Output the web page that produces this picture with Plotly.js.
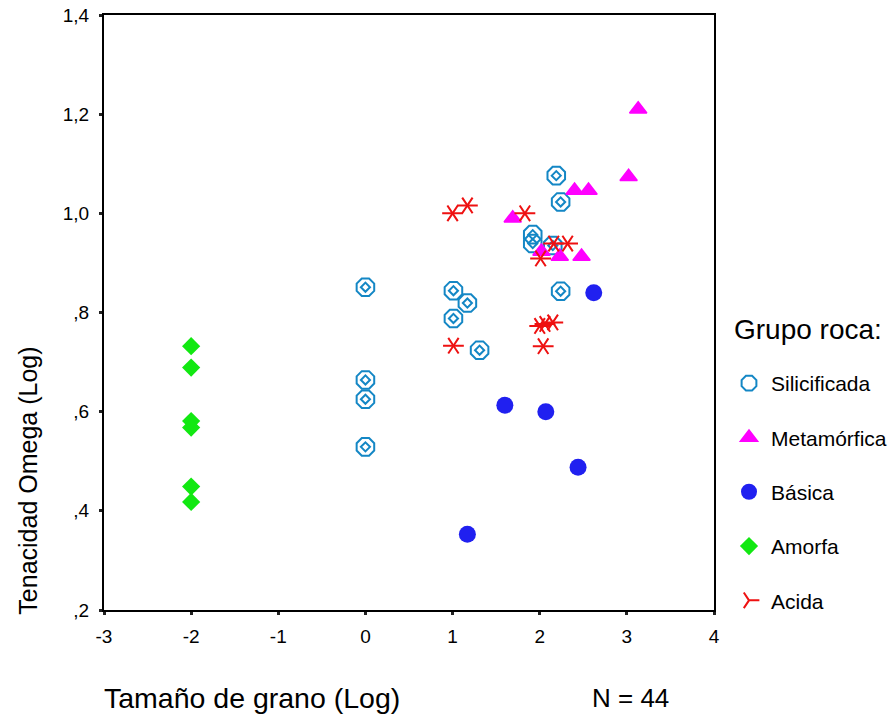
<!DOCTYPE html>
<html>
<head>
<meta charset="utf-8">
<script src="https://cdn.plot.ly/plotly-3.0.1.min.js"></script>
<style>html,body{margin:0;padding:0;background:#fff;}#chart{width:890px;height:717px;}</style>
</head>
<body>
<div id="chart"></div>
<script>
// Data
const silX = [0, 0, 0, 0, 1.01, 1.17, 1.01, 1.31, 2.19, 2.24, 1.92, 1.92, 2.15, 2.24];
const silY = [0.851, 0.664, 0.625, 0.529, 0.844, 0.819, 0.788, 0.724, 1.076, 1.023, 0.957, 0.939, 0.935, 0.843];

const metX = [3.13, 3.02, 2.40, 2.56, 1.69, 2.02, 2.23, 2.48];
const metY = [1.210, 1.074, 1.046, 1.046, 0.990, 0.923, 0.913, 0.913];

const basX = [2.62, 1.60, 2.07, 2.44, 1.17];
const basY = [0.840, 0.613, 0.600, 0.488, 0.353];

const amoX = [-2, -2, -2, -2, -2, -2];
const amoY = [0.732, 0.689, 0.581, 0.568, 0.449, 0.418];

const aciX = [1.00, 1.17, 1.83, 2.01, 2.16, 2.32, 2.00, 2.06, 2.15, 2.04, 1.01];
const aciY = [1.000, 1.016, 1.000, 0.909, 0.939, 0.939, 0.773, 0.777, 0.780, 0.732, 0.733];

const groupNames = ['Silicificada', 'Metamórfica', 'Básica', 'Amorfa', 'Acida'];
const xTickVals = [-3, -2, -1, 0, 1, 2, 3, 4];
const xTickText = ['-3', '-2', '-1', '0', '1', '2', '3', '4'];
const yTickVals = [0.2, 0.4, 0.6, 0.8, 1.0, 1.2, 1.4];
const yTickText = [',2', ',4', ',6', ',8', '1,0', '1,2', '1,4'];

const FONT = 'Liberation Sans, Arial, sans-serif';
const cSil = '#1487c5', cMet = '#ff00ff', cBas = '#2020f0', cAmo = '#12e812', cAci = '#ee1111';

const traces = [
  {x: silX, y: silY, type: 'scatter', mode: 'markers', name: groupNames[0], legendgroup: 'g1',
   marker: {symbol: 'octagon-open', size: 19, color: cSil, line: {color: cSil, width: 2}}},
  {x: silX, y: silY, type: 'scatter', mode: 'markers', name: groupNames[0], legendgroup: 'g1', showlegend: false,
   marker: {symbol: 'diamond-open', size: 7, color: cSil, line: {color: cSil, width: 2}}},
  {x: metX, y: metY, type: 'scatter', mode: 'markers', name: groupNames[1], legendgroup: 'g2',
   marker: {symbol: 'triangle-up', size: 15, color: cMet, line: {color: cMet, width: 1.5}}},
  {x: basX, y: basY, type: 'scatter', mode: 'markers', name: groupNames[2], legendgroup: 'g3',
   marker: {symbol: 'circle', size: 17, color: cBas, line: {width: 0}}},
  {x: amoX, y: amoY, type: 'scatter', mode: 'markers', name: groupNames[3], legendgroup: 'g4',
   marker: {symbol: 'diamond', size: 14, color: cAmo, line: {width: 0}}},
  {x: aciX, y: aciY, type: 'scatter', mode: 'markers', name: groupNames[4], legendgroup: 'g5',
   marker: {symbol: 'y-up-open', angle: 90, size: 13, color: cAci, line: {color: cAci, width: 2}}},
  {x: aciX, y: aciY, type: 'scatter', mode: 'markers', name: groupNames[4], legendgroup: 'g5', showlegend: false,
   marker: {symbol: 'y-down-open', angle: 90, size: 13, color: cAci, line: {color: cAci, width: 2}}}
];

const layout = {
  width: 890, height: 717,
  margin: {l: 104, r: 176, t: 15, b: 107},
  paper_bgcolor: '#ffffff', plot_bgcolor: '#ffffff',
  font: {family: FONT, color: '#000', size: 19},
  showlegend: true,
  legend: {
    xref: 'container', yref: 'container',
    x: 727 / 890, xanchor: 'left', y: 1 - 363 / 717, yanchor: 'top',
    font: {size: 21, family: FONT},
    tracegroupgap: 24,
    itemwidth: 34,
    bgcolor: 'rgba(0,0,0,0)', borderwidth: 0,
    traceorder: 'grouped'
  },
  xaxis: {
    range: [-3, 4], tickvals: xTickVals, ticktext: xTickText,
    showgrid: false, zeroline: false,
    showline: true, linecolor: '#000', linewidth: 2, mirror: true,
    ticks: 'outside', ticklen: 3, tickwidth: 3, tickcolor: '#222',
    tickfont: {size: 19, family: FONT}, ticklabelstandoff: 5,
    fixedrange: true
  },
  yaxis: {
    range: [0.2, 1.4], tickvals: yTickVals, ticktext: yTickText,
    showgrid: false, zeroline: false,
    showline: true, linecolor: '#000', linewidth: 2, mirror: true,
    ticks: 'outside', ticklen: 3, tickwidth: 3, tickcolor: '#222',
    tickfont: {size: 19, family: FONT}, ticklabelstandoff: 6,
    fixedrange: true
  },
  annotations: [
    {text: 'Grupo roca:', xref: 'paper', yref: 'paper', x: 1.029, y: 0.4706,
     xanchor: 'left', yanchor: 'middle', showarrow: false, font: {size: 28, family: FONT}},
    {text: 'Tenacidad Omega (Log)', xref: 'paper', yref: 'paper', x: -0.124, y: 0.218,
     xanchor: 'center', yanchor: 'middle', textangle: -90, showarrow: false,
     font: {size: 25, family: FONT}},
    {text: 'Tamaño de grano (Log)', xref: 'paper', yref: 'paper', x: -0.004, y: -0.148,
     xanchor: 'left', yanchor: 'middle', showarrow: false, font: {size: 28.5, family: FONT}},
    {text: 'N = 44', xref: 'paper', yref: 'paper', x: 0.796, y: -0.148,
     xanchor: 'left', yanchor: 'middle', showarrow: false, font: {size: 26, family: FONT}}
  ]
};

Plotly.newPlot('chart', traces, layout, {displayModeBar: false, staticPlot: true});
</script>
</body>
</html>
